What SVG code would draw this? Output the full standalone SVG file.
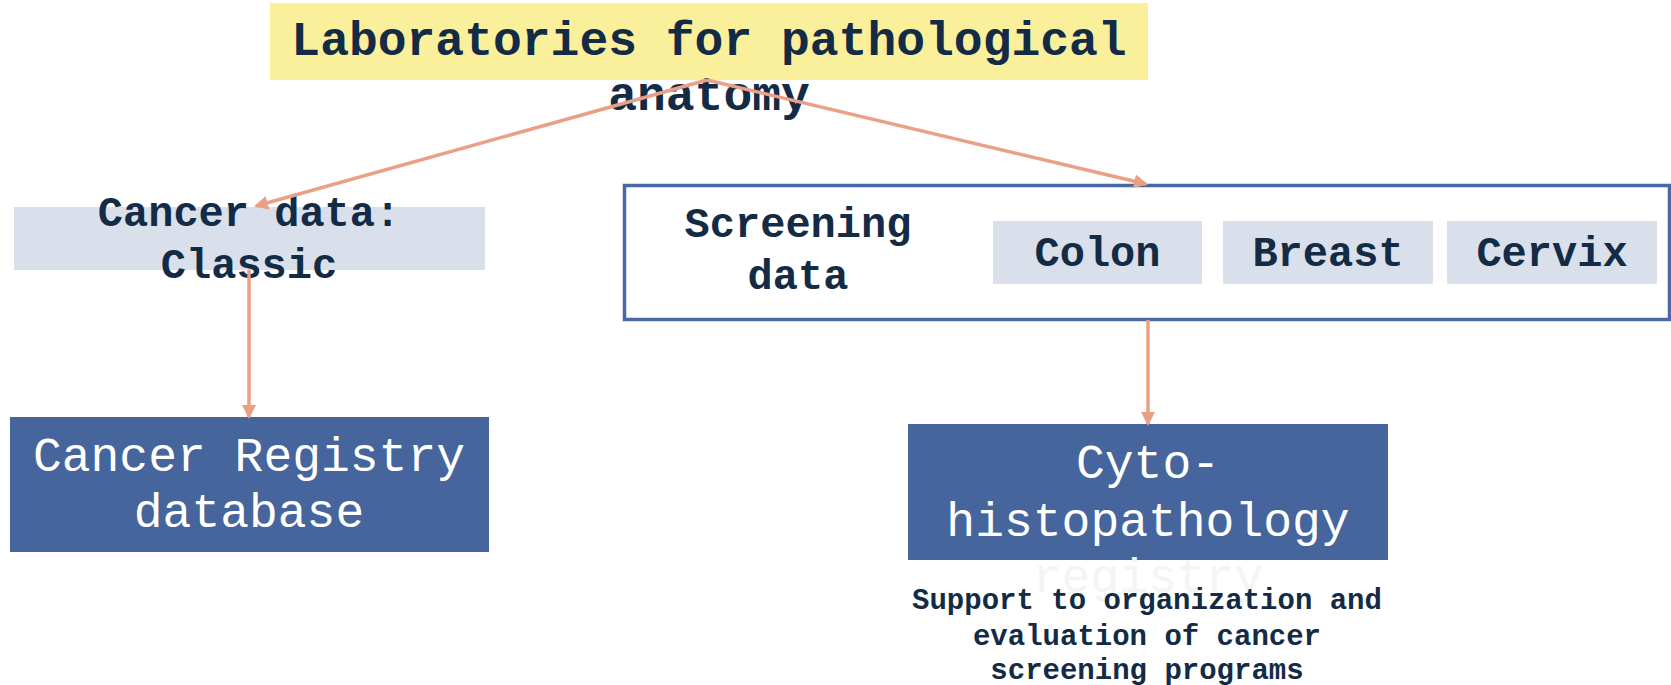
<svg xmlns="http://www.w3.org/2000/svg" width="1671" height="685" viewBox="0 0 1671 685">
<defs>
<style>
.t{font-family:"Liberation Mono","Courier New",monospace;text-anchor:middle}
.b{font-weight:bold;fill:#132b45}
.w{fill:#ffffff}
.c{stroke:#e9a084;stroke-width:3.5;fill:none}
.lb{fill:#d9e0ec}
.db{fill:#47659d}
</style>
<marker id="ah" markerWidth="14" markerHeight="14" refX="12" refY="7" orient="auto" markerUnits="userSpaceOnUse">
<path d="M0,0 L14,7 L0,14 Z" fill="#e9a084"/>
</marker>
</defs>
<rect width="1671" height="685" fill="#ffffff"/>
<g id="title">
<rect x="270" y="3" width="878" height="77" fill="#faf09c"/>
<text class="t b" x="709" y="55" font-size="48">Laboratories for pathological</text>
<text class="t b" x="709" y="110" font-size="48">anatomy</text>
</g>
<g id="cancer-data">
<rect class="lb" x="14" y="207" width="471" height="63"/>
<text class="t b" x="249" y="226" font-size="42">Cancer data:</text>
<text class="t b" x="249" y="278" font-size="42">Classic</text>
</g>
<g id="screening">
<rect x="624.5" y="185.5" width="1045" height="134" fill="#ffffff" stroke="#4a69a4" stroke-width="3.5"/>
<text class="t b" x="798" y="237" font-size="42">Screening</text>
<text class="t b" x="798" y="289" font-size="42">data</text>
</g>
<g id="colon">
<rect class="lb" x="993" y="221" width="209" height="63"/>
<text class="t b" x="1097.5" y="266" font-size="42">Colon</text>
</g>
<g id="breast">
<rect class="lb" x="1223" y="221" width="210" height="63"/>
<text class="t b" x="1328" y="266" font-size="42">Breast</text>
</g>
<g id="cervix">
<rect class="lb" x="1447" y="221" width="210" height="63"/>
<text class="t b" x="1552" y="266" font-size="42">Cervix</text>
</g>
<g id="registry-db">
<rect class="db" x="10" y="417" width="479" height="135"/>
<text class="t w" x="249" y="471" font-size="48">Cancer Registry</text>
<text class="t w" x="249" y="527" font-size="48">database</text>
</g>
<g id="cyto">
<rect class="db" x="908" y="424" width="480" height="136"/>
<text class="t w" x="1148" y="478" font-size="48">Cyto-</text>
<text class="t w" x="1148" y="536" font-size="48">histopathology</text>
<text class="t" x="1148" y="592" font-size="48" fill="#f4f4f4">registry</text>
</g>
<g id="note">
<text class="t b" x="1147" y="609" font-size="29">Support to organization and</text>
<text class="t b" x="1147" y="645" font-size="29">evaluation of cancer</text>
<text class="t b" x="1147" y="679" font-size="29">screening programs</text>
</g>
<g id="connectors">
<line class="c" x1="707" y1="80" x2="256" y2="206" marker-end="url(#ah)"/>
<line class="c" x1="707" y1="80" x2="1146" y2="184" marker-end="url(#ah)"/>
<line class="c" x1="249" y1="270" x2="249" y2="417" marker-end="url(#ah)"/>
<line class="c" x1="1148" y1="320" x2="1148" y2="424" marker-end="url(#ah)"/>
</g>
</svg>
